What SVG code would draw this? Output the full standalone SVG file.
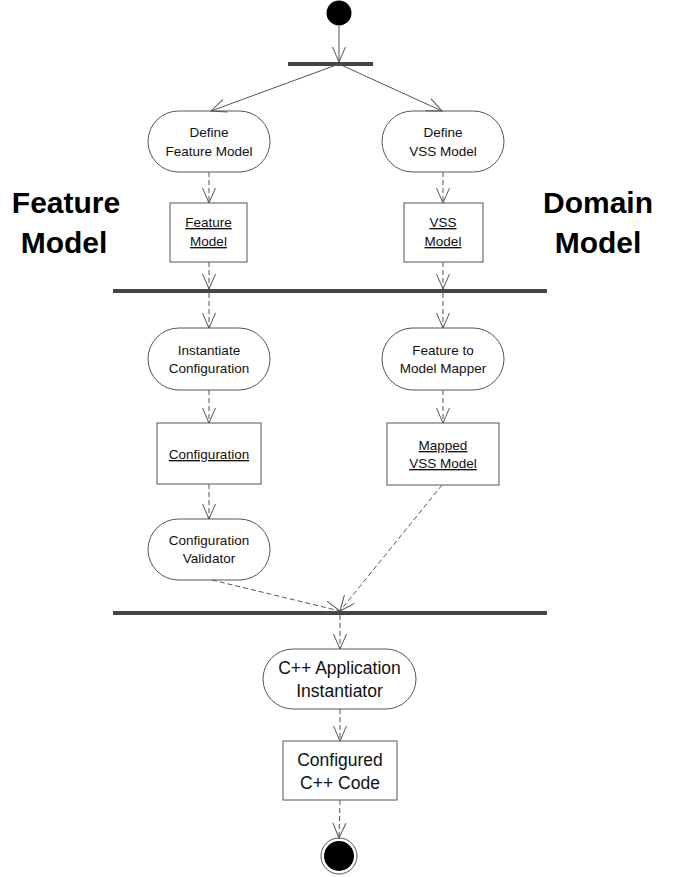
<svg xmlns="http://www.w3.org/2000/svg" width="685" height="877" viewBox="0 0 685 877">
<defs>
<marker id="arr" viewBox="-16 -8 17 16" refX="0" refY="0" markerWidth="17" markerHeight="16" markerUnits="userSpaceOnUse" orient="auto">
<path d="M -15 -6.5 L 0 0 L -15 6.5" fill="none" stroke="#555" stroke-width="1"/>
</marker>
</defs>
<style>
.act{fill:#fff;stroke:#555;stroke-width:1}
.obj{fill:#fff;stroke:#555;stroke-width:1}
.bar{fill:#444}
.t{font-family:"Liberation Sans",Arial,sans-serif;font-size:13.5px;fill:#111;text-anchor:middle}
.tl{font-family:"Liberation Sans",Arial,sans-serif;font-size:17.5px;fill:#111;text-anchor:middle}
.u{text-decoration:underline}
.big{font-family:"Liberation Sans",Arial,sans-serif;font-size:30px;font-weight:bold;fill:#000;text-anchor:middle}
.c{fill:none;stroke:#555;stroke-width:1;marker-end:url(#arr)}
.d{stroke-dasharray:5 3}
</style>
<g id="label-feature">
<text class="big" x="66" y="213">Feature</text>
<text class="big" x="64" y="253">Model</text>
</g>
<g id="label-domain">
<text class="big" x="598" y="213">Domain</text>
<text class="big" x="598" y="253">Model</text>
</g>
<g id="start"><circle cx="339" cy="13" r="12.5" fill="#000"/></g>
<g id="fork1"><rect class="bar" x="288" y="62" width="85" height="4"/></g>
<g id="fork2"><rect class="bar" x="113" y="289" width="434" height="4"/></g>
<g id="join3"><rect class="bar" x="113" y="611" width="434" height="4"/></g>
<g id="define-feature">
<rect class="act" x="148" y="111" width="122" height="61" rx="30.5"/>
<text class="t" x="209" y="137">Define</text>
<text class="t" x="209" y="156">Feature Model</text>
</g>
<g id="define-vss">
<rect class="act" x="382" y="111" width="122" height="61" rx="30.5"/>
<text class="t" x="443" y="137">Define</text>
<text class="t" x="443" y="156">VSS Model</text>
</g>
<g id="feature-model">
<rect class="obj" x="170" y="203" width="77" height="59"/>
<text class="t u" x="208.5" y="227">Feature</text>
<text class="t u" x="208.5" y="246">Model</text>
</g>
<g id="vss-model">
<rect class="obj" x="404" y="203" width="79" height="59"/>
<text class="t u" x="443" y="227">VSS</text>
<text class="t u" x="443" y="246">Model</text>
</g>
<g id="instantiate-config">
<rect class="act" x="148" y="328" width="122" height="62" rx="31"/>
<text class="t" x="209" y="355">Instantiate</text>
<text class="t" x="209" y="373">Configuration</text>
</g>
<g id="mapper">
<rect class="act" x="382" y="328" width="122" height="62" rx="31"/>
<text class="t" x="443" y="355">Feature to</text>
<text class="t" x="443" y="373">Model Mapper</text>
</g>
<g id="configuration">
<rect class="obj" x="157" y="423" width="104" height="61"/>
<text class="t u" x="209" y="459">Configuration</text>
</g>
<g id="mapped-vss">
<rect class="obj" x="387" y="423" width="112" height="62"/>
<text class="t u" x="443" y="450">Mapped</text>
<text class="t u" x="443" y="468">VSS Model</text>
</g>
<g id="validator">
<rect class="act" x="148" y="519" width="122" height="61" rx="30.5"/>
<text class="t" x="209" y="545">Configuration</text>
<text class="t" x="209" y="563">Validator</text>
</g>
<g id="cpp-app">
<rect class="act" x="263" y="649" width="153" height="60" rx="30"/>
<text class="tl" x="339.5" y="674">C++ Application</text>
<text class="tl" x="339.5" y="697">Instantiator</text>
</g>
<g id="cpp-code">
<rect class="obj" x="283" y="741" width="114" height="59"/>
<text class="tl" x="340" y="766">Configured</text>
<text class="tl" x="340" y="789">C++ Code</text>
</g>
<g id="end">
<circle cx="339" cy="856" r="18" fill="#fff" stroke="#555" stroke-width="1"/>
<circle cx="339" cy="856" r="15" fill="#000"/>
</g>
<g id="connectors">
<line class="c" x1="339" y1="26" x2="339" y2="62"/>
<line class="c" x1="339" y1="64" x2="211" y2="111"/>
<line class="c" x1="339" y1="64" x2="442" y2="111"/>
<line class="c d" x1="209" y1="172" x2="209" y2="203"/>
<line class="c d" x1="443" y1="172" x2="443" y2="203"/>
<line class="c d" x1="209" y1="262" x2="209" y2="289"/>
<line class="c d" x1="443" y1="262" x2="443" y2="289"/>
<line class="c d" x1="209" y1="293" x2="209" y2="328"/>
<line class="c d" x1="443" y1="293" x2="443" y2="328"/>
<line class="c d" x1="209" y1="390" x2="209" y2="423"/>
<line class="c d" x1="443" y1="390" x2="443" y2="423"/>
<line class="c d" x1="209" y1="484" x2="209" y2="519"/>
<line class="c d" x1="212" y1="580" x2="340" y2="611"/>
<line class="c d" x1="442" y1="485" x2="340" y2="611"/>
<line class="c d" x1="340" y1="615" x2="340" y2="649"/>
<line class="c d" x1="340" y1="709" x2="340" y2="741"/>
<line class="c d" x1="340" y1="800" x2="339" y2="838"/>
</g>
</svg>
